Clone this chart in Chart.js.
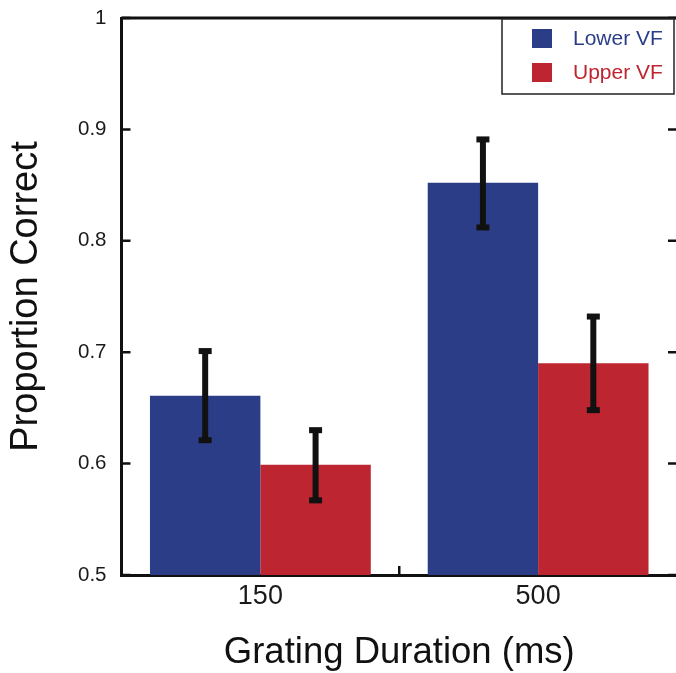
<!DOCTYPE html>
<html>
<head>
<meta charset="utf-8">
<script src="https://cdn.jsdelivr.net/npm/chart.js@4/dist/chart.umd.min.js"></script>
<style>
  html, body { margin: 0; padding: 0; background: #ffffff; overflow: hidden; }
  #wrap { width: 680px; height: 673px; }
</style>
</head>
<body>
<div id="wrap"><canvas id="c" width="680" height="673"></canvas></div>
<script>
const categories = ['150', '500'];
const seriesNames = ['Lower VF', 'Upper VF'];
const lowerVF = [0.661, 0.852];
const upperVF = [0.599, 0.690];
const lowerVFErrLow = [0.621, 0.812];
const lowerVFErrHigh = [0.701, 0.891];
const upperVFErrLow = [0.567, 0.648];
const upperVFErrHigh = [0.630, 0.732];
const yTickValues = [0.5, 0.6, 0.7, 0.8, 0.9, 1];
const yTickLabels = ['0.5', '0.6', '0.7', '0.8', '0.9', '1'];

const BLUE = '#2c3d87';
const RED = '#bd2530';
const FONT = '"Liberation Sans", Arial, Helvetica, sans-serif';

const errLow = [lowerVFErrLow, upperVFErrLow];
const errHigh = [lowerVFErrHigh, upperVFErrHigh];

const boxPlugin = {
  id: 'boxPlugin',
  afterDatasetsDraw(chart) {
    const ctx = chart.ctx;
    const a = chart.chartArea;
    const y = chart.scales.y;
    const x = chart.scales.x;
    ctx.save();
    // error bars
    ctx.fillStyle = '#111';
    ctx.strokeStyle = '#111';
    chart.data.datasets.forEach((ds, di) => {
      const meta = chart.getDatasetMeta(di);
      meta.data.forEach((bar, i) => {
        const cx = bar.x;
        const yl = y.getPixelForValue(errLow[di][i]);
        const yh = y.getPixelForValue(errHigh[di][i]);
        ctx.lineWidth = 6;
        ctx.beginPath();
        ctx.moveTo(cx, yl);
        ctx.lineTo(cx, yh);
        ctx.stroke();
        ctx.fillRect(cx - 6.5, yh - 3, 13, 6);
        ctx.fillRect(cx - 6.5, yl - 3, 13, 6);
      });
    });
    // top border
    ctx.strokeStyle = '#111';
    ctx.lineWidth = 3;
    ctx.beginPath();
    ctx.moveTo(a.left, a.top);
    ctx.lineTo(a.right + 2, a.top);
    ctx.stroke();
    // inward ticks left and right
    ctx.lineWidth = 2.5;
    yTickValues.forEach(v => {
      const py = y.getPixelForValue(v);
      ctx.beginPath();
      ctx.moveTo(a.left, py);
      ctx.lineTo(a.left + 9, py);
      ctx.moveTo(a.right, py);
      ctx.lineTo(a.right - 9, py);
      ctx.stroke();
    });
    // x tick between categories
    for (let i = 0; i < categories.length - 1; i++) {
      const px = (x.getPixelForValue(i) + x.getPixelForValue(i + 1)) / 2;
      ctx.beginPath();
      ctx.moveTo(px, a.bottom);
      ctx.lineTo(px, a.bottom - 9);
      ctx.stroke();
    }
    // legend
    const bx = a.right - 175, by = a.top + 1, bw = 172, bh = 75;
    ctx.fillStyle = '#ffffff';
    ctx.fillRect(bx, by, bw, bh);
    ctx.strokeStyle = '#222';
    ctx.lineWidth = 1.5;
    ctx.strokeRect(bx, by, bw, bh);
    const colors = [BLUE, RED];
    ctx.font = '21px ' + FONT;
    ctx.textBaseline = 'middle';
    ctx.textAlign = 'left';
    seriesNames.forEach((name, i) => {
      const sy = by + 10 + i * 34;
      ctx.fillStyle = colors[i];
      ctx.fillRect(bx + 30, sy, 20, 19);
      ctx.fillText(name, bx + 71, sy + 10.5);
    });
    ctx.restore();
  }
};

new Chart(document.getElementById('c'), {
  type: 'bar',
  data: {
    labels: categories,
    datasets: [
      { label: seriesNames[0], data: lowerVF, backgroundColor: BLUE, borderWidth: 0 },
      { label: seriesNames[1], data: upperVF, backgroundColor: RED, borderWidth: 0 }
    ]
  },
  options: {
    responsive: false,
    animation: false,
    devicePixelRatio: 1,
    categoryPercentage: 0.795,
    barPercentage: 1.0,
    layout: { padding: { left: 0, right: 3, top: 18, bottom: 0 } },
    plugins: {
      legend: { display: false },
      tooltip: { enabled: false }
    },
    scales: {
      x: {
        type: 'category',
        grid: { display: false, drawTicks: false },
        border: { display: true, width: 3, color: '#111' },
        ticks: { font: { family: FONT, size: 27 }, color: '#1a1a1a', padding: 5 },
        title: {
          display: true,
          text: 'Grating Duration (ms)',
          font: { family: FONT, size: 36.5, lineHeight: 1 },
          color: '#111',
          padding: { top: 0, bottom: 2 }
        },
        afterFit(s) { s.height = 98; s.paddingLeft = 0; s.paddingRight = 0; }
      },
      y: {
        type: 'linear',
        min: 0.5,
        max: 1,
        grid: { display: false, drawTicks: false },
        border: { display: true, width: 3, color: '#111' },
        afterBuildTicks(s) { s.ticks = yTickValues.map(v => ({ value: v })); },
        ticks: {
          font: { family: FONT, size: 20.5 },
          color: '#1a1a1a',
          padding: 15,
          callback(v) { const i = yTickValues.indexOf(v); return i >= 0 ? yTickLabels[i] : ''; }
        },
        title: {
          display: true,
          text: 'Proportion Correct',
          font: { family: FONT, size: 38, lineHeight: 1 },
          color: '#111',
          padding: { top: 8, bottom: 0 }
        },
        afterFit(s) { s.width = 121.5; s.paddingTop = 0; s.paddingBottom = 0; }
      }
    }
  },
  plugins: [boxPlugin]
});
</script>
</body>
</html>
